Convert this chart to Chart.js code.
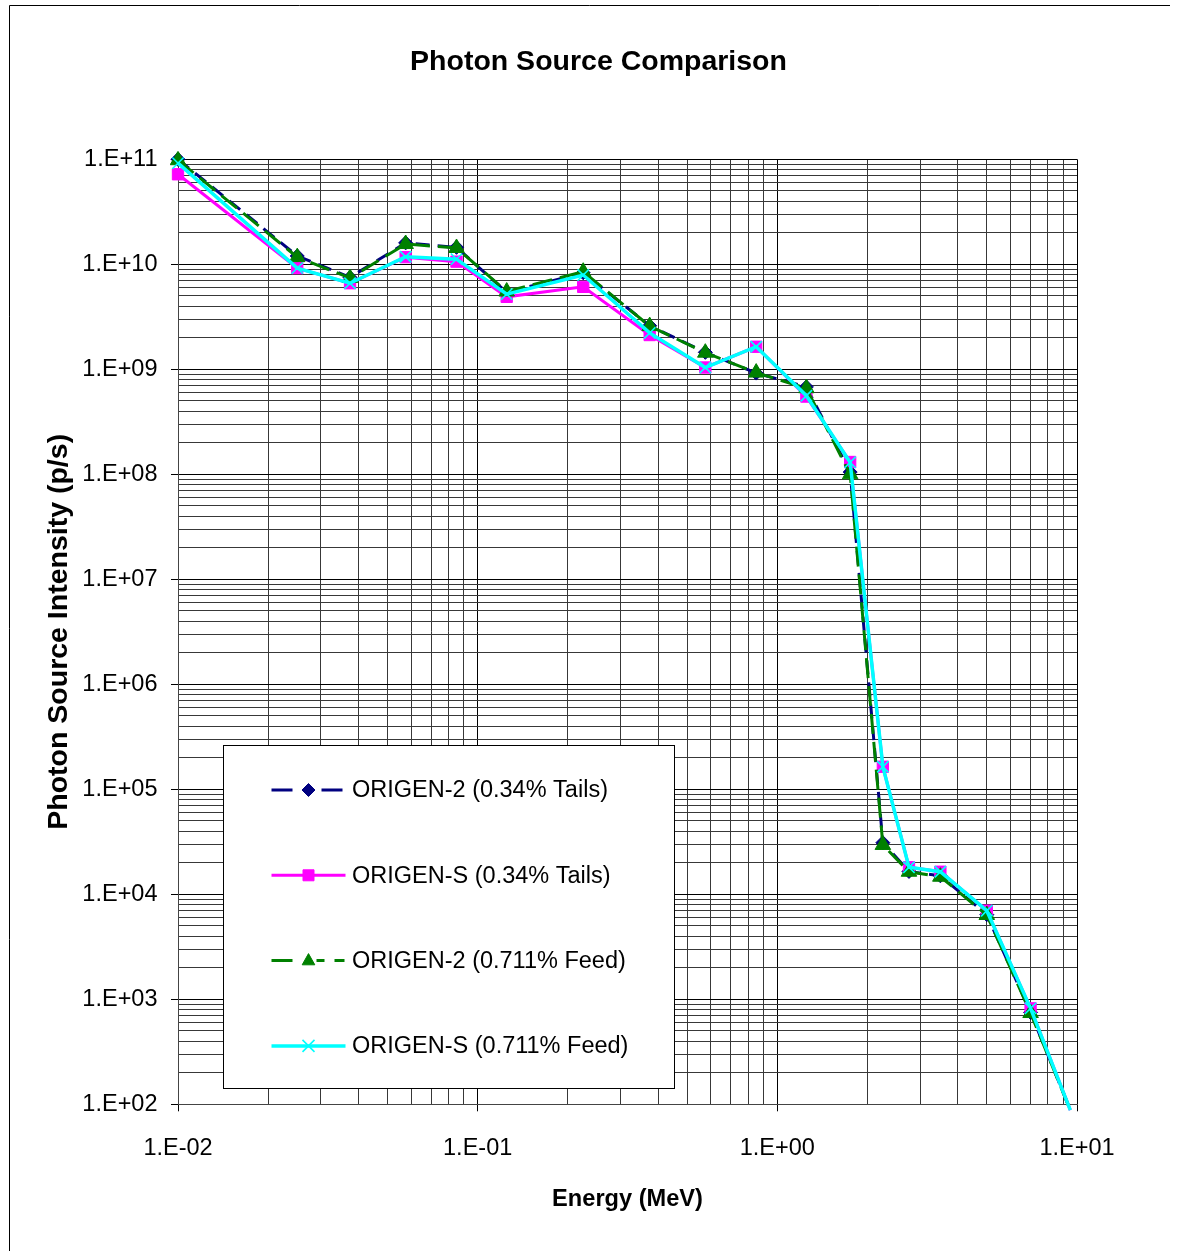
<!DOCTYPE html>
<html>
<head>
<meta charset="utf-8">
<script src="https://cdn.jsdelivr.net/npm/chart.js@4.4.1/dist/chart.umd.min.js"></script>
<style>
html,body{margin:0;padding:0;background:#fff;}
canvas{display:block;}
</style>
</head>
<body>
<canvas id="chart" width="1178" height="1251"></canvas>
<script>
// ---- data ----
const energies = [0.01, 0.025, 0.0375, 0.0575, 0.085, 0.125, 0.225, 0.375, 0.575, 0.85, 1.25, 1.75, 2.25, 2.75, 3.5, 5.0, 7.0, 9.5];
const origen2Tails = [1.0e11, 1.2e10, 7.5e9, 1.6e10, 1.45e10, 5.4e9, 8.3e9, 2.6e9, 1.45e9, 9.2e8, 6.8e8, 1.05e8, 3.1e4, 1.65e4, 1.5e4, 6.4e3, 7.5e2, 88];
const origenSTails = [7.2e10, 9.2e9, 6.6e9, 1.17e10, 1.06e10, 4.9e9, 6.1e9, 2.12e9, 1.04e9, 1.64e9, 5.5e8, 1.31e8, 1.64e5, 1.81e4, 1.64e4, 6.98e3, 8.2e2, 88];
const origen2Feed = [9.8e10, 1.17e10, 7.4e9, 1.56e10, 1.43e10, 5.5e9, 8.5e9, 2.58e9, 1.44e9, 9.3e8, 6.6e8, 1.0e8, 2.95e4, 1.64e4, 1.47e4, 6.35e3, 7.4e2, 88];
const origenSFeed = [9.2e10, 9.2e9, 6.6e9, 1.18e10, 1.12e10, 5.2e9, 7.9e9, 2.22e9, 1.04e9, 1.64e9, 5.6e8, 1.3e8, 1.64e5, 1.81e4, 1.64e4, 6.98e3, 8.2e2, 88];
const seriesNames = ['ORIGEN-2 (0.34% Tails)', 'ORIGEN-S (0.34% Tails)', 'ORIGEN-2 (0.711% Feed)', 'ORIGEN-S (0.711% Feed)'];
const xTickLabels = ['1.E-02', '1.E-01', '1.E+00', '1.E+01'];
const yTickLabels = ['1.E+02', '1.E+03', '1.E+04', '1.E+05', '1.E+06', '1.E+07', '1.E+08', '1.E+09', '1.E+10', '1.E+11'];
const chartTitle = 'Photon Source Comparison';
const xAxisTitle = 'Energy (MeV)';
const yAxisTitle = 'Photon Source Intensity (p/s)';
const X_MIN = 0.01, X_MAX = 10, Y_MIN = 1e2, Y_MAX = 1e11;

// ---- fonts ----
function fontAvailable(name) {
  const c = document.createElement('canvas').getContext('2d');
  const s = 'ORIGEN-2 (0.34% Tails) 1.E+11';
  c.font = '40px monospace';
  const a = c.measureText(s).width;
  c.font = '40px "' + name + '", monospace';
  const b = c.measureText(s).width;
  return Math.abs(a - b) > 0.5;
}
const hasNarrow = fontAvailable('Liberation Sans Narrow');
const SANS = '"Liberation Sans", Arial, Helvetica, sans-serif';
const NARROW = hasNarrow ? '"Liberation Sans Narrow", ' + SANS : SANS;
const smallSize = hasNarrow ? 28.5 : 23.5;
const xTitleSize = hasNarrow ? 28 : 23.6;

// ---- helpers ----
function isMajor(v) {
  if (!(v > 0)) return false;
  const l = Math.log10(v);
  return Math.abs(l - Math.round(l)) < 1e-6;
}
function logTicks(min, max) {
  const out = [];
  const e0 = Math.floor(Math.log10(min) + 1e-9), e1 = Math.ceil(Math.log10(max) - 1e-9);
  for (let e = e0; e <= e1; e++) {
    for (let m = 1; m <= 9; m++) {
      const v = parseFloat((m * Math.pow(10, e)).toPrecision(12));
      if (v >= min * (1 - 1e-9) && v <= max * (1 + 1e-9)) out.push({ value: v });
    }
  }
  return out;
}
function toPoints(values) {
  return energies.map((e, i) => ({ x: e, y: values[i] }));
}
function radiusFor(r) {
  return ctx => (ctx.raw && ctx.raw.y < Y_MIN) ? 0 : r;
}

const styles = [
  { color: '#000080', dash: [14, 8], legendDash: [21, 29], width: 3, pointStyle: 'rectRot', radius: 7, fill: '#000080', pbw: 1, order: 4 },
  { color: '#ff00ff', dash: [], legendDash: [], width: 3, pointStyle: 'rect', radius: 8, fill: '#ff00ff', pbw: 1, order: 3 },
  { color: '#008000', dash: [20, 8], legendDash: [21, 24, 8, 10, 10, 100], width: 3, pointStyle: 'triangle', radius: 9, fill: '#008000', pbw: 1, order: 2 },
  { color: '#00ffff', dash: [], legendDash: [], width: 3.5, pointStyle: 'crossRot', radius: 8, fill: '#00ffff', pbw: 1.6, order: 1 }
];
const seriesValues = [origen2Tails, origenSTails, origen2Feed, origenSFeed];

const datasets = seriesValues.map((vals, i) => {
  const s = styles[i];
  return {
    label: seriesNames[i],
    data: toPoints(vals),
    borderColor: s.color,
    backgroundColor: s.fill,
    borderWidth: s.width,
    borderDash: s.dash,
    pointStyle: s.pointStyle,
    pointRadius: radiusFor(s.radius),
    pointBackgroundColor: s.fill,
    pointBorderColor: s.color,
    pointBorderWidth: s.pbw,
    tension: 0,
    order: s.order,
    clip: 8,
    fill: false
  };
});

// ---- plugins ----
const framePlugin = {
  id: 'frame',
  beforeDraw(chart) {
    const c = chart.ctx;
    c.save();
    c.fillStyle = '#fff';
    c.fillRect(0, 0, chart.width, chart.height);
    c.strokeStyle = '#000';
    c.lineWidth = 1;
    c.beginPath();
    c.moveTo(9.5, chart.height);
    c.lineTo(9.5, 5.5);
    c.lineTo(1170, 5.5);
    c.stroke();
    c.restore();
  }
};

function drawMarker(c, style, x, y, r) {
  c.save();
  c.fillStyle = style.fill;
  c.strokeStyle = style.color;
  c.lineWidth = style.pbw;
  c.beginPath();
  if (style.pointStyle === 'rectRot') {
    c.moveTo(x, y - r); c.lineTo(x + r, y); c.lineTo(x, y + r); c.lineTo(x - r, y); c.closePath();
    c.fill(); c.stroke();
  } else if (style.pointStyle === 'rect') {
    c.rect(x - r, y - r, 2 * r, 2 * r);
    c.fill(); c.stroke();
  } else if (style.pointStyle === 'triangle') {
    c.moveTo(x, y - r); c.lineTo(x + r * 0.9, y + r * 0.6); c.lineTo(x - r * 0.9, y + r * 0.6); c.closePath();
    c.fill(); c.stroke();
  } else {
    c.moveTo(x - r, y - r); c.lineTo(x + r, y + r);
    c.moveTo(x + r, y - r); c.lineTo(x - r, y + r);
    c.stroke();
  }
  c.restore();
}

const boxLegendPlugin = {
  id: 'boxLegend',
  afterDraw(chart) {
    const c = chart.ctx, a = chart.chartArea;
    const bx = Math.round(a.left + 45) + 0.5, by = Math.round(a.top + 586) + 0.5;
    const bw = 451, bh = 343;
    c.save();
    c.fillStyle = '#fff';
    c.fillRect(bx, by, bw, bh);
    c.strokeStyle = '#000';
    c.lineWidth = 1;
    c.strokeRect(bx, by, bw, bh);
    const legendR = [6.5, 5.5, 7, 6];
    chart.data.datasets.forEach((ds, i) => {
      const s = styles[i];
      const y = by + 44.5 + i * 85.3;
      const x0 = bx + 48, x1 = bx + 122, xm = bx + 85;
      c.strokeStyle = s.color;
      c.lineWidth = s.width;
      c.setLineDash(s.legendDash);
      c.beginPath();
      c.moveTo(x0, y);
      c.lineTo(x1, y);
      c.stroke();
      c.setLineDash([]);
      drawMarker(c, s, xm, y, legendR[i]);
      c.fillStyle = '#000';
      c.font = smallSize + 'px ' + NARROW;
      c.textAlign = 'left';
      c.textBaseline = 'middle';
      c.fillText(ds.label, bx + 128.5, y + 1);
    });
    c.restore();
  }
};

// ---- chart ----
const LEFT_PAD = 19;
const xTickPad = 1148.5 - 1104.3 - 7 - smallSize * 0.6;
const gridColor = ctx => (ctx.tick && isMajor(ctx.tick.value)) ? '#000' : '#383838';
const tickMarkColor = ctx => (ctx.tick && isMajor(ctx.tick.value)) ? '#000' : 'rgba(0,0,0,0)';

new Chart(document.getElementById('chart'), {
  type: 'line',
  data: { datasets },
  options: {
    responsive: false,
    maintainAspectRatio: false,
    animation: false,
    events: [],
    layout: { padding: { left: LEFT_PAD, right: 0, top: 0, bottom: 0 } },
    plugins: {
      legend: { display: false },
      tooltip: { enabled: false },
      title: {
        display: true,
        text: chartTitle,
        color: '#000',
        font: { family: SANS, size: 28.5, weight: 'bold' },
        padding: { top: 45, bottom: 80.1 }
      }
    },
    scales: {
      x: {
        type: 'logarithmic',
        min: X_MIN,
        max: X_MAX,
        afterBuildTicks: scale => { scale.ticks = logTicks(scale.min, scale.max); },
        afterFit: scale => { scale.height = 146.7; },
        ticks: {
          autoSkip: false,
          maxRotation: 0,
          minRotation: 0,
          padding: xTickPad,
          color: '#000',
          font: { family: NARROW, size: smallSize },
          callback: v => isMajor(v) ? xTickLabels[Math.round(Math.log10(v) - Math.log10(X_MIN))] : ''
        },
        grid: { color: gridColor, lineWidth: 1, drawTicks: true, tickLength: 7, tickColor: tickMarkColor },
        border: { display: true, color: '#444', width: 1 },
        title: {
          display: true,
          text: xAxisTitle,
          color: '#000',
          font: { family: NARROW, size: xTitleSize, weight: 'bold' },
          padding: { top: 0, bottom: 1251 - 1199 - xTitleSize * 0.6 }
        }
      },
      y: {
        type: 'logarithmic',
        position: 'left',
        min: Y_MIN,
        max: Y_MAX,
        afterBuildTicks: scale => { scale.ticks = logTicks(scale.min, scale.max); },
        afterFit: scale => { scale.width = 178 - LEFT_PAD; },
        ticks: {
          autoSkip: false,
          padding: 13.5,
          color: '#000',
          font: { family: NARROW, size: smallSize },
          callback: v => isMajor(v) ? yTickLabels[Math.round(Math.log10(v) - Math.log10(Y_MIN))] : ''
        },
        grid: { color: gridColor, lineWidth: 1, drawTicks: true, tickLength: 7, tickColor: tickMarkColor },
        border: { display: true, color: '#444', width: 1 },
        title: {
          display: true,
          text: yAxisTitle,
          color: '#000',
          font: { family: SANS, size: 28.5, weight: 'bold' },
          padding: { top: 59 - LEFT_PAD - 28.5 * 0.6, bottom: 0 }
        }
      },
      rightSpace: {
        type: 'linear',
        position: 'right',
        display: true,
        afterFit: scale => { scale.width = 101; },
        grid: { display: false, drawTicks: false },
        border: { display: false },
        ticks: { display: false },
        title: { display: false }
      }
    }
  },
  plugins: [framePlugin, boxLegendPlugin]
});
</script>
</body>
</html>
